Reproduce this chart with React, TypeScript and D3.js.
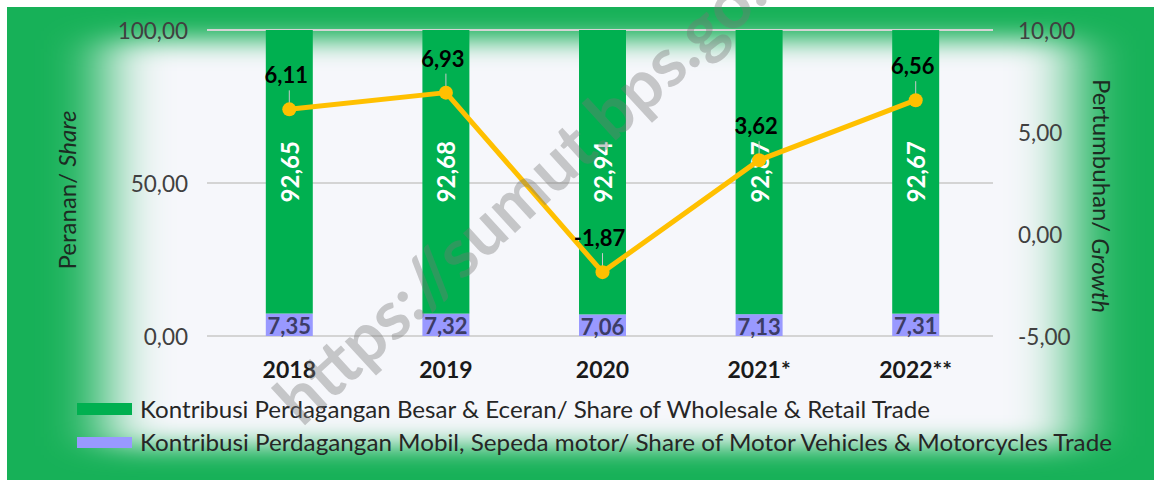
import * as d3 from "d3";

const years = ["2018", "2019", "2020", "2021*", "2022**"];
const wholesale = [92.65, 92.68, 92.94, 92.87, 92.67];
const motor = [7.35, 7.32, 7.06, 7.13, 7.31];
const growth = [6.11, 6.93, -1.87, 3.62, 6.56];
const shareTicks = [0, 50, 100];
const growthTicks = [-5, 0, 5, 10];

const W = 1159;
const H = 486;
const FONT = "Lato, 'Open Sans', sans-serif";

const GREEN = "#00b050";
const PURPLE = "#9999ff";
const GOLD = "#ffc000";

const loc = d3.formatLocale({ decimal: ",", thousands: ".", grouping: [3], currency: ["", ""], minus: "-" });
const fmt = loc.format(".2f");

export default function App() {
  const x = d3.scaleBand<string>().domain(years).range([211, 994]).paddingInner(0.7).paddingOuter(0.35);
  const yL = d3.scaleLinear().domain([0, 100]).range([336, 30]);
  const yR = d3.scaleLinear().domain([-5, 10]).range([336, 30]);

  const rows = years.map((yr, i) => ({ yr, motor: motor[i], wholesale: wholesale[i] }));
  const stack = d3.stack<any>().keys(["motor", "wholesale"])(rows);
  const colors: Record<string, string> = { motor: PURPLE, wholesale: GREEN };

  const line = d3
    .line<number>()
    .x((_, i) => x(years[i])! + x.bandwidth() / 2)
    .y((d) => yR(d));

  const bw = x.bandwidth();

  return (
    <>
      <style>{`body{margin:0}`}</style>
      <svg width={W} height={H} style={{ display: "block" }} fontFamily={FONT}>
        <defs>
          <filter id="soft" filterUnits="userSpaceOnUse" x="0" y="0" width={W} height={H}>
            <feGaussianBlur stdDeviation="30 13" />
          </filter>
          <clipPath id="frame">
            <rect x={7} y={7} width={1147} height={473} />
          </clipPath>
        </defs>

        {/* glowing green frame */}
        <rect width={W} height={H} fill="#fff" />
        <g clipPath="url(#frame)">
          <rect x={7} y={7} width={1147} height={473} fill="#17b158" />
          <rect x={106} y={40} width={968} height={406} fill="#f6f7fb" filter="url(#soft)" />
        </g>

        {/* gridlines */}
        {shareTicks.map((t) => (
          <line key={t} x1={207} x2={993} y1={yL(t)} y2={yL(t)} stroke="#d4d4d4" strokeWidth={2} />
        ))}

        {/* stacked bars */}
        {stack.map((s) =>
          s.map((d, i) => (
            <rect
              key={s.key + i}
              x={x(years[i])}
              width={bw}
              y={yL(d[1])}
              height={yL(d[0]) - yL(d[1])}
              fill={colors[s.key]}
            />
          ))
        )}

        {/* bar labels */}
        {stack[1].map((d, i) => {
          const cx = x(years[i])! + bw / 2;
          const cy = (yL(d[0]) + yL(d[1])) / 2;
          return (
            <text
              key={"w" + i}
              transform={`translate(${cx},${cy}) rotate(-90)`}
              textAnchor="middle"
              dominantBaseline="central"
              fill="#fff"
              fontWeight="bold"
              fontSize={24}
            >
              {fmt(wholesale[i])}
            </text>
          );
        })}
        {stack[0].map((d, i) => (
          <text
            key={"m" + i}
            x={x(years[i])! + bw / 2}
            y={(yL(d[0]) + yL(d[1])) / 2 + 1}
            textAnchor="middle"
            dominantBaseline="central"
            fill="#3c3c66"
            fontWeight="bold"
            fontSize={22}
          >
            {fmt(motor[i])}
          </text>
        ))}

        {/* growth line */}
        <path d={line(growth)!} fill="none" stroke={GOLD} strokeWidth={5} strokeLinejoin="round" />
        {growth.map((g, i) => {
          const cx = x(years[i])! + bw / 2;
          return (
            <g key={"g" + i}>
              <line x1={cx} x2={cx} y1={yR(g) - 19} y2={yR(g) - 6} stroke="#c9c9c9" strokeWidth={1} />
              <circle cx={cx} cy={yR(g)} r={7} fill={GOLD} />
              <text x={cx - 3} y={yR(g) - 26} textAnchor="middle" fontWeight="bold" fontSize={22} fill="#000">
                {fmt(g)}
              </text>
            </g>
          );
        })}

        {/* left axis */}
        {shareTicks.map((t) => (
          <text key={"l" + t} x={188} y={yL(t)} textAnchor="end" dominantBaseline="central" fontSize={22.5} fill="#404040">
            {fmt(t)}
          </text>
        ))}
        {/* right axis */}
        {growthTicks.map((t) => (
          <text key={"r" + t} x={1018} y={yR(t)} textAnchor="start" dominantBaseline="central" fontSize={22.5} fill="#404040">
            {fmt(t)}
          </text>
        ))}

        {/* x axis labels */}
        {years.map((yr) => (
          <text key={yr} x={x(yr)! + bw / 2} y={378} textAnchor="middle" fontWeight="bold" fontSize={23} fill="#1a1a1a">
            {yr}
          </text>
        ))}

        {/* axis titles */}
        <text transform="translate(66,190) rotate(-90)" textAnchor="middle" dominantBaseline="central" fontSize={24} fill="#1c2b22">
          Peranan/ <tspan fontStyle="italic">Share</tspan>
        </text>
        <text transform="translate(1102,196) rotate(90)" textAnchor="middle" dominantBaseline="central" fontSize={24} fill="#1c2b22">
          Pertumbuhan/ <tspan fontStyle="italic">Growth</tspan>
        </text>

        {/* legend */}
        <rect x={77} y={403} width={55} height={12} fill={GREEN} />
        <text x={140} y={409} dominantBaseline="central" fontSize={22.5} fill="#262626" textLength={790} lengthAdjust="spacingAndGlyphs">
          Kontribusi Perdagangan Besar &amp; Eceran/ Share of Wholesale &amp; Retail Trade
        </text>
        <rect x={77} y={437} width={55} height={11} fill={PURPLE} />
        <text x={140} y={442} dominantBaseline="central" fontSize={22.5} fill="#262626" textLength={972} lengthAdjust="spacingAndGlyphs">
          Kontribusi Perdagangan Mobil, Sepeda motor/ Share of Motor Vehicles &amp; Motorcycles Trade
        </text>

        {/* watermark, cut by the top edge as in the source image */}
        <text
          transform="translate(302,428) rotate(-42.5)"
          fontSize={68}
          fontWeight="bold"
          fill="#777"
          opacity={0.38}
        >
          https://sumut.bps.go.id
        </text>
      </svg>
    </>
  );
}
